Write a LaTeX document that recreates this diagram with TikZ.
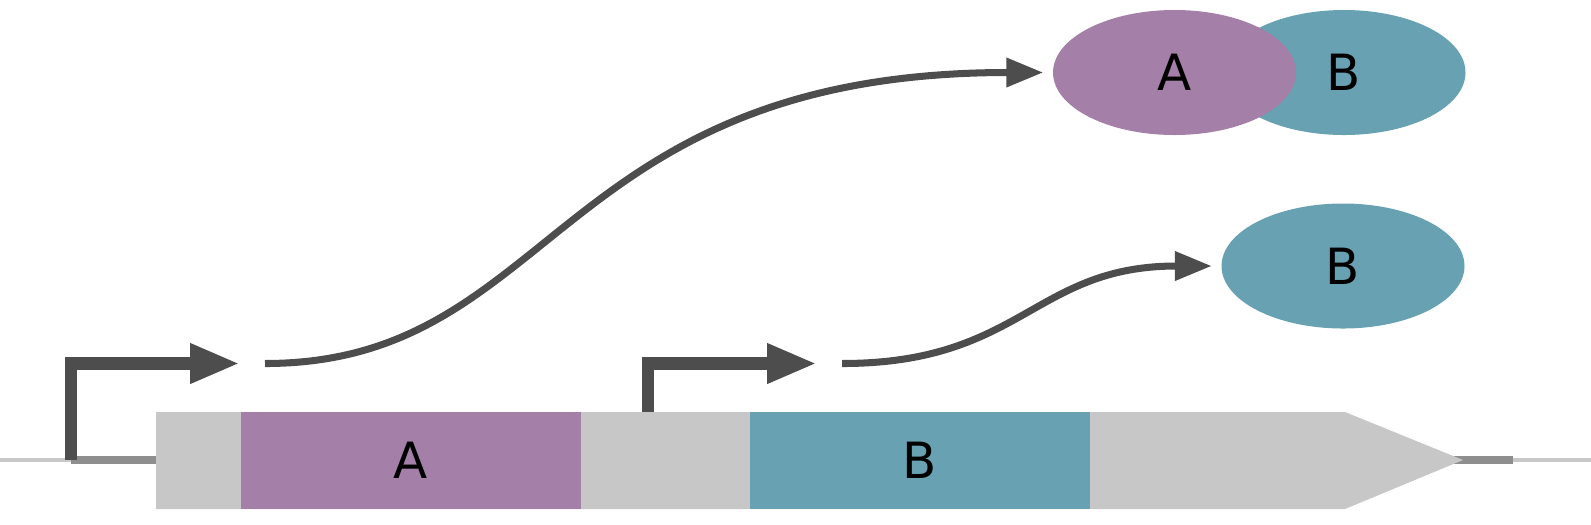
\documentclass[tikz,border=0pt]{standalone}
\usepackage{fontspec}
\setmainfont{DejaVu Sans}
\usetikzlibrary{arrows.meta, shapes.geometric}

\definecolor{purpleA}{HTML}{A480A8}
\definecolor{tealB}{HTML}{68A1B1}
\definecolor{bodygrey}{HTML}{C7C7C7}
\definecolor{thingrey}{HTML}{C8C8C8}
\definecolor{bargrey}{HTML}{8E8E8E}
\definecolor{arrowgrey}{HTML}{4D4D4D}

\begin{document}
\begin{tikzpicture}[
        every node/.style = {font = \fontsize{14.2}{17}\selectfont},
        region/.style = {
                rectangle,
                minimum height = 0.97cm,
                inner sep = 0pt
            },
        protein/.style = {
                ellipse,
                minimum width = 2.43cm,
                minimum height = 1.25cm,
                inner sep = 0pt
            },
        promoter/.style = {
                draw = arrowgrey,
                line width = 3.6pt,
                line join = miter,
                -{Triangle[length = 5mm, width = 3.7mm]}
            },
        product/.style = {
                draw = arrowgrey,
                line width = 2pt,
                shorten > = 0.9mm,
                -{Triangle[length = 3.7mm, width = 2.8mm]}
            }
    ]
    \useasboundingbox (0,0) rectangle (15.91,5.24);

    % DNA and gene body
    \draw[thingrey, line width = 0.043cm] (0,0.64) -- (15.91,0.64);
    \draw[bargrey, line width = 0.085cm] (0.71,0.64) -- (1.56,0.64);
    \draw[bargrey, line width = 0.085cm] (14.50,0.64) -- (15.13,0.64);
    \fill[bodygrey] (1.56,0.15) -- (13.45,0.15) -- (14.63,0.64)
        -- (13.45,1.12) -- (1.56,1.12) -- cycle;

    \node[region, fill = purpleA, minimum width = 3.40cm] (geneA) at (4.11,0.635) {A};
    \node[region, fill = tealB, minimum width = 3.40cm] (geneB) at (9.20,0.635) {B};

    % proteins
    \node[protein, fill = tealB] (pB) at (13.44,4.515) {B};
    \node[protein, fill = purpleA] (pA) at (11.745,4.515) {A};
    \node[protein, fill = tealB] (pB2) at (13.43,2.58) {B};

    % promoters and transcripts
    \coordinate (prom1) at (0.71,0.64);
    \coordinate (tss1) at (2.40,1.605);
    \coordinate (prom2) at (6.48,1.12);
    \coordinate (tss2) at (8.17,1.605);
    \coordinate (mrna1) at (2.65,1.605);
    \coordinate (mrna2) at (8.42,1.605);

    \draw[promoter] (prom1) |- (tss1);
    \draw[promoter] (prom2) |- (tss2);

    \draw[product] (mrna1) .. controls +(2.9,0) and +(-4.98,0) .. (pA.west);
    \draw[product] (mrna2) .. controls +(1.8,0) and +(-1.87,0) .. (pB2.west);

\end{tikzpicture}
\end{document}
